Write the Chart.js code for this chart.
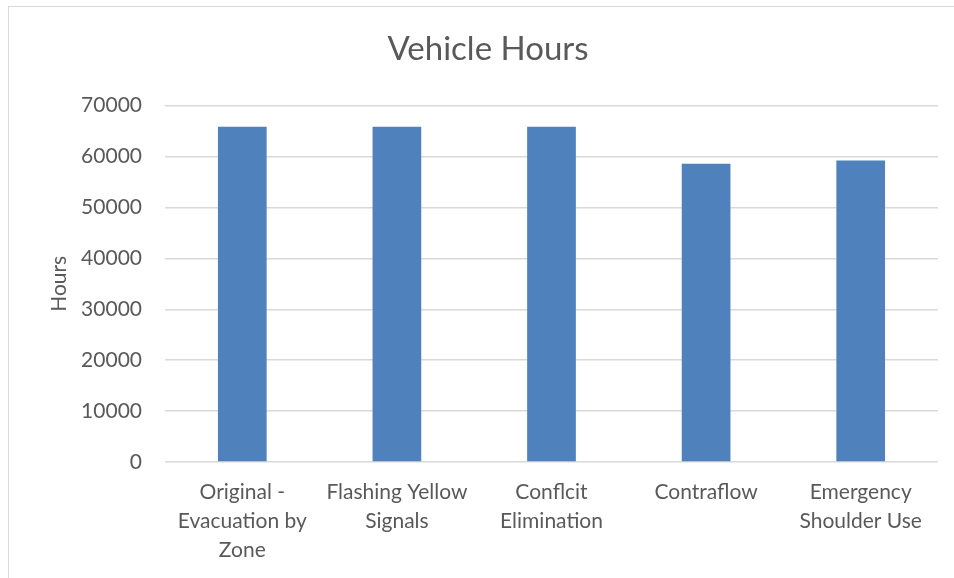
<!DOCTYPE html>
<html>
<head>
<meta charset="utf-8">
<script src="https://cdn.jsdelivr.net/npm/chart.js@4/dist/chart.umd.min.js"></script>
<style>
  html, body { margin: 0; padding: 0; background: #fff; }
  #frame {
    position: absolute; left: 8px; top: 6px; width: 960px; height: 600px;
    border-left: 1px solid #d9d9d9; border-top: 1px solid #d9d9d9;
  }
  #wrap { position: absolute; left: 0; top: 0; width: 954px; height: 578px; }
</style>
</head>
<body>
<div id="frame"></div>
<div id="wrap"><canvas id="chart"></canvas></div>
<script>
// Chart values
const categories = [
  ['Original -', 'Evacuation by', 'Zone'],
  ['Flashing Yellow', 'Signals'],
  ['Conflcit', 'Elimination'],
  'Contraflow',
  ['Emergency', 'Shoulder Use'],
];
const vehicleHours = [65850, 65850, 65850, 58600, 59200];
const yTicks = [0, 10000, 20000, 30000, 40000, 50000, 60000, 70000];

const textColor = '#595959';
const fontFamily = 'Lato, "Liberation Sans", sans-serif';

new Chart(document.getElementById('chart'), {
  type: 'bar',
  data: {
    labels: categories,
    datasets: [{
      label: 'Hours',
      data: vehicleHours,
      backgroundColor: '#4f81bd',
      borderWidth: 0,
      categoryPercentage: 1,
      barPercentage: 0.315,
    }],
  },
  options: {
    responsive: true,
    maintainAspectRatio: false,
    animation: false,
    // left padding keeps the title centred where the reference has it
    layout: { padding: { left: 38, right: 16, top: 0, bottom: 0 } },
    plugins: {
      legend: { display: false },
      tooltip: { enabled: false },
      title: {
        display: true,
        text: 'Vehicle Hours',
        color: textColor,
        font: { family: fontFamily, size: 33, weight: 'normal', lineHeight: 1.2 },
        padding: { top: 30, bottom: 36 },
      },
    },
    scales: {
      x: {
        grid: { display: false, drawTicks: false },
        border: { display: false },
        ticks: {
          color: textColor,
          font: { family: fontFamily, size: 21, lineHeight: 1.38 },
          padding: 16,
          autoSkip: false,
          maxRotation: 0,
          minRotation: 0,
        },
        afterFit: (scale) => { scale.height = 116; },
      },
      y: {
        min: 0,
        max: 70000,
        afterBuildTicks: (scale) => { scale.ticks = yTicks.map((v) => ({ value: v })); },
        grid: { color: '#d9d9d9', lineWidth: 1.5, drawTicks: false },
        border: { display: false },
        ticks: {
          color: textColor,
          font: { family: fontFamily, size: 21 },
          padding: 23,
          callback: (v) => String(v),
        },
        title: {
          display: true,
          text: 'Hours',
          color: textColor,
          font: { family: fontFamily, size: 21, lineHeight: 1.2 },
          padding: { top: 9, bottom: 0 },
        },
        afterFit: (scale) => { scale.width = 127; },
      },
    },
  },
});
</script>
</body>
</html>
